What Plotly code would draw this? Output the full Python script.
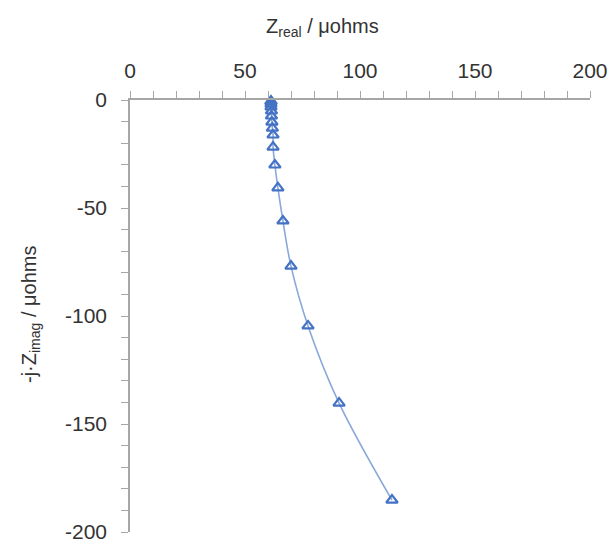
import plotly.graph_objects as go

# Nyquist data: real and (negative) imaginary impedance, micro-ohms
z_real = [113.9, 90.9, 77.4, 70.0, 66.5, 64.3, 63.0, 62.2, 62.2, 61.9, 61.7,
          61.5, 61.5, 61.3, 61.3, 61.3, 61.3]
z_imag = [-185.2, -140.3, -104.6, -76.9, -56.0, -40.7, -30.1, -21.8, -16.2,
          -13.0, -10.2, -7.4, -5.1, -3.2, -1.9, -0.9, -0.5]

x_ticks = [0, 50, 100, 150, 200]
y_ticks = [0, -50, -100, -150, -200]

marker_blue = "#4472C4"
line_blue = "#8AA8DA"
axis_grey = "#A6A6A6"
text_grey = "#333333"
font_family = "Liberation Sans, Arial, sans-serif"

W, H = 612, 540
ML, MR, MT, MB = 130, 22, 100, 8
PW, PH = W - ML - MR, H - MT - MB


def px_to_paper(px, py):
    """Convert page pixel position to paper coordinates."""
    return (px - ML) / PW, (H - MB - py) / PH


fig = go.Figure()
fig.add_trace(go.Scatter(
    x=z_real, y=z_imag,
    mode="lines+markers",
    line=dict(color=line_blue, width=1.6, shape="spline"),
    marker=dict(symbol="triangle-up-open", size=10, color=marker_blue,
                line=dict(width=2.2, color=marker_blue)),
    showlegend=False,
    cliponaxis=False,
))

axis_common = dict(
    showgrid=False, zeroline=False, showline=True,
    linecolor=axis_grey, linewidth=1.5,
    ticks="outside", ticklen=7, tickcolor=axis_grey, tickwidth=1.2,
    tickfont=dict(size=21, color=text_grey, family=font_family),
    ticklabeloverflow="allow", automargin=False,
    minor=dict(ticks="outside", ticklen=7, tickcolor=axis_grey,
               tickwidth=1.2, dtick=10, showgrid=False),
)

fig.update_xaxes(
    range=[0, 200], side="top", tickvals=x_ticks,
    ticktext=[str(v) for v in x_ticks], ticklabelstandoff=5,
    **axis_common,
)
fig.update_yaxes(
    range=[-200, 0], tickvals=y_ticks,
    ticktext=[str(v) for v in y_ticks], ticklabelstandoff=10,
    **axis_common,
)

tx, ty = px_to_paper(322, 27)
fig.add_annotation(
    text="Z<sub>real</sub> / μohms", x=tx, y=ty,
    xref="paper", yref="paper", xanchor="center", yanchor="middle",
    showarrow=False, font=dict(size=20, color=text_grey, family=font_family),
)

yx, yy = px_to_paper(30, 315)
fig.add_annotation(
    text="-j·Z<sub>imag</sub> / μohms", textangle=-90, x=yx, y=yy,
    xref="paper", yref="paper", xanchor="center", yanchor="middle",
    showarrow=False, font=dict(size=20, color=text_grey, family=font_family),
)

fig.update_layout(
    width=W, height=H,
    margin=dict(l=ML, r=MR, t=MT, b=MB, autoexpand=False),
    paper_bgcolor="white", plot_bgcolor="white",
    font=dict(family=font_family, color=text_grey),
)

fig.write_html("out.html")
